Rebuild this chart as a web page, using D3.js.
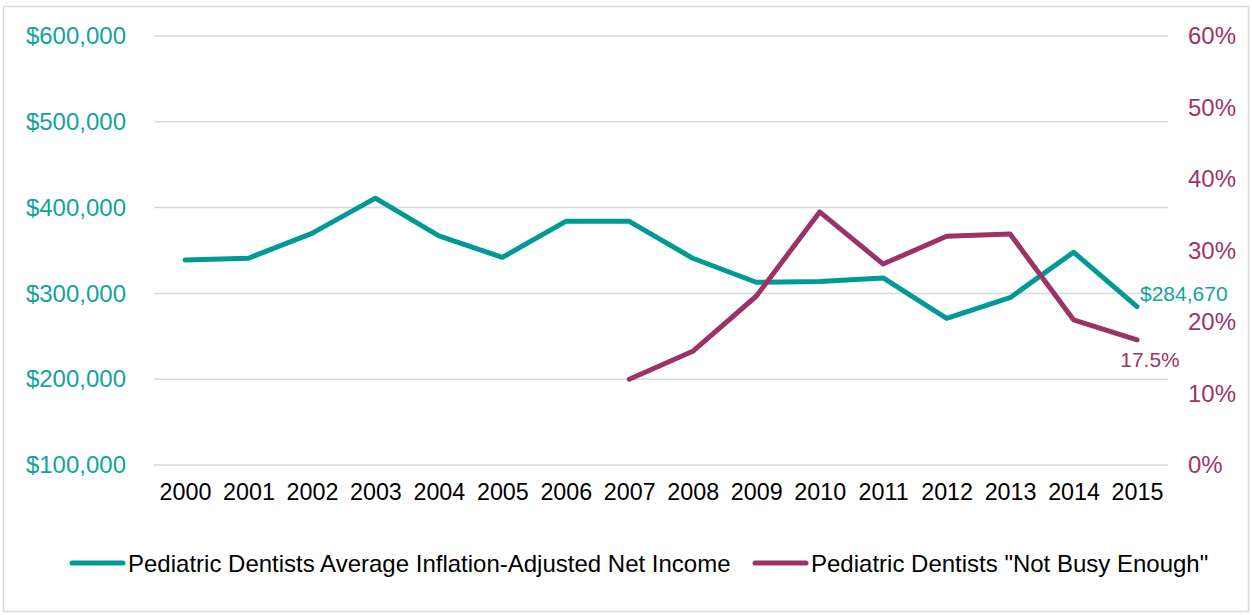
<!DOCTYPE html>
<html>
<head>
<meta charset="utf-8">
<script src="https://cdn.jsdelivr.net/npm/d3@7"></script>
<style>
  html, body { margin: 0; padding: 0; background: #fff; }
  svg { display: block; font-family: "Liberation Sans", Arial, sans-serif; }
</style>
</head>
<body>
<svg id="chart" width="1252" height="615"></svg>
<script>
// Years shown on the x axis
const years = ["2000","2001","2002","2003","2004","2005","2006","2007",
               "2008","2009","2010","2011","2012","2013","2014","2015"];

// Average inflation-adjusted net income (USD), 2000-2015
const incomeValues = [339000, 341000, 370000, 411000, 367000, 342000, 384000, 384000,
                      341000, 313000, 314000, 318000, 271000, 295000, 348000, 284670];

// Share reporting "not busy enough" (%), surveyed from 2007 onward
const busyYears = ["2007","2008","2009","2010","2011","2012","2013","2014","2015"];
const busyValues = [12.0, 15.9, 23.6, 35.4, 28.1, 32.0, 32.3, 20.3, 17.5];

// Tick values for the two y axes
const incomeTicks = [100000, 200000, 300000, 400000, 500000, 600000];
const busyTicks = [0, 10, 20, 30, 40, 50, 60];

const incomeName = "Pediatric Dentists Average Inflation-Adjusted Net Income";
const busyName = 'Pediatric Dentists "Not Busy Enough"';

const teal = "#009a96";
const tealText = "#12a39e";
const maroon = "#9b3366";
const maroonText = "#9c3568";
const grid = "#d9d9d9";

const svg = d3.select("#chart");

// Outer frame
svg.append("rect")
  .attr("x", 3.5).attr("y", 6.5)
  .attr("width", 1245).attr("height", 605)
  .attr("fill", "none").attr("stroke", "#d9d9d9").attr("stroke-width", 1.5);

const plot = { left: 154, right: 1168, top: 36, bottom: 465 };

const x = d3.scalePoint().domain(years)
  .range([185, 1137]);

const yL = d3.scaleLinear().domain([100000, 600000]).range([plot.bottom, plot.top]);
const yR = d3.scaleLinear().domain([0, 60]).range([plot.bottom, plot.top]);

// Horizontal gridlines
svg.append("g")
  .selectAll("line")
  .data(incomeTicks)
  .join("line")
  .attr("x1", plot.left).attr("x2", plot.right)
  .attr("y1", d => yL(d)).attr("y2", d => yL(d))
  .attr("stroke", grid).attr("stroke-width", 1.5);

// Left axis (income)
const fmtMoney = d => "$" + d3.format(",")(d);
const leftAxis = svg.append("g")
  .attr("transform", `translate(126,0)`)
  .call(d3.axisLeft(yL).tickValues(incomeTicks).tickFormat(fmtMoney).tickSize(0).tickPadding(0));
leftAxis.select(".domain").remove();
leftAxis.selectAll("text")
  .attr("fill", tealText)
  .style("font-size", "24px");

// Right axis (percent)
const rightAxis = svg.append("g")
  .attr("transform", `translate(1188,0)`)
  .call(d3.axisRight(yR).tickValues(busyTicks).tickFormat(d => d + "%").tickSize(0).tickPadding(0));
rightAxis.select(".domain").remove();
rightAxis.selectAll("text")
  .attr("fill", maroonText)
  .style("font-size", "24px");

// Bottom axis (years)
const bottomAxis = svg.append("g")
  .attr("transform", `translate(0,${plot.bottom})`)
  .call(d3.axisBottom(x).tickSize(0).tickPadding(18));
bottomAxis.select(".domain").remove();
bottomAxis.selectAll("text")
  .attr("fill", "#000")
  .style("font-size", "23.3px");

// Income line
const incomeData = years.map((yr, i) => ({ yr, v: incomeValues[i] }));
svg.append("path")
  .datum(incomeData)
  .attr("fill", "none")
  .attr("stroke", teal)
  .attr("stroke-width", 5)
  .attr("stroke-linejoin", "round")
  .attr("stroke-linecap", "round")
  .attr("d", d3.line().x(d => x(d.yr)).y(d => yL(d.v)));

// "Not busy enough" line
const busyData = busyYears.map((yr, i) => ({ yr, v: busyValues[i] }));
svg.append("path")
  .datum(busyData)
  .attr("fill", "none")
  .attr("stroke", maroon)
  .attr("stroke-width", 5)
  .attr("stroke-linejoin", "round")
  .attr("stroke-linecap", "round")
  .attr("d", d3.line().x(d => x(d.yr)).y(d => yR(d.v)));

// End-point value labels
const lastInc = incomeData[incomeData.length - 1];
svg.append("text")
  .attr("x", x(lastInc.yr) + 3)
  .attr("y", yL(lastInc.v) - 13)
  .attr("dominant-baseline", "central")
  .attr("fill", tealText)
  .style("font-size", "21px")
  .text(fmtMoney(lastInc.v));

const lastBusy = busyData[busyData.length - 1];
svg.append("text")
  .attr("x", x(lastBusy.yr) + 13)
  .attr("y", yR(lastBusy.v) + 20)
  .attr("text-anchor", "middle")
  .attr("dominant-baseline", "central")
  .attr("fill", maroonText)
  .style("font-size", "21px")
  .text(lastBusy.v.toFixed(1) + "%");

// Legend
const legendItems = [
  { name: incomeName, color: teal, x0: 72 },
  { name: busyName, color: maroon, x0: 755 }
];
const legend = svg.append("g").selectAll("g")
  .data(legendItems)
  .join("g")
  .attr("transform", d => `translate(${d.x0},563)`);
legend.append("line")
  .attr("x1", 0).attr("x2", 51)
  .attr("stroke", d => d.color)
  .attr("stroke-width", 5)
  .attr("stroke-linecap", "round");
legend.append("text")
  .attr("x", 56)
  .attr("dominant-baseline", "central")
  .attr("fill", "#000")
  .style("font-size", "24px")
  .text(d => d.name);
</script>
</body>
</html>
